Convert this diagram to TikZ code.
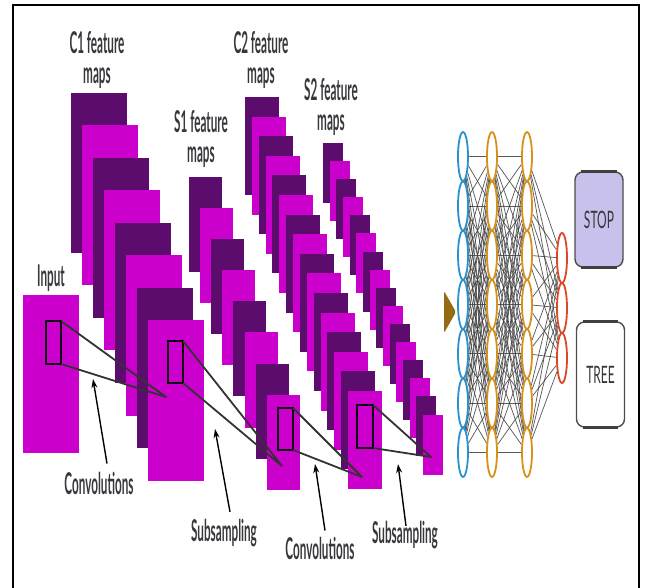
\documentclass[tikz,border=0pt]{standalone}
\usepackage{fontspec}
\usepackage{graphicx}
\setmainfont{Lato}
\usetikzlibrary{shapes.geometric,arrows.meta,backgrounds}

\definecolor{mapdark}{RGB}{92,12,108}
\definecolor{mapbright}{RGB}{204,0,204}
\definecolor{inblue}{RGB}{40,145,210}
\definecolor{hidorange}{RGB}{214,145,25}
\definecolor{outred}{RGB}{218,72,38}
\definecolor{stopfill}{RGB}{200,193,236}
\definecolor{inkgray}{RGB}{55,55,60}
\definecolor{feedgold}{RGB}{150,105,20}

% A fanned stack of feature maps, alternating dark and bright.
% #1,#2 top-left of the first map; #3,#4 offset per map; #5,#6 size; #7 last index
\newcommand\featurestack[7]{%
  \foreach \mapidx in {0,...,#7}{%
    \pgfmathtruncatemacro\mappar{mod(\mapidx,2)}%
    \ifnum\mappar=0 \def\mapcol{mapdark}\else\def\mapcol{mapbright}\fi
    \fill[fill=\mapcol] ({#1+\mapidx*#3},{#2+\mapidx*#4}) rectangle ++(#5,#6);
  }%
}

\tikzset{
  lbl/.style={text=inkgray, font=\fontsize{30}{30}\selectfont\bfseries, xscale=0.39,
              inner sep=0pt, align=center},
  window/.style={draw=black!85!mapdark, line width=1.6pt},
  proj/.style={draw=black!80, line width=1.8pt, line join=round},
  pointer/.style={draw=black, line width=1.4pt, -{Stealth[length=9pt,width=6pt]}},
  unit/.style={ellipse, fill=white, line width=1.8pt, minimum width=10pt,
               minimum height=49pt, inner sep=0pt},
  link/.style={draw=black!75, line width=0.75pt, opacity=0.85},
  outbox/.style={draw=black!70, line width=1.4pt, rounded corners=8pt,
                 minimum width=48pt, text=inkgray, inner sep=0pt,
                 font=\fontsize{24}{24}\selectfont},
  boxedge/.style={draw=black!75, line width=3pt},
  frameline/.style={draw=black, line width=2.5pt},
}

\begin{document}
\begin{tikzpicture}[x=1pt,y=-1pt]
\useasboundingbox (0,0) rectangle (646,588);

% outer frame
\draw[frameline] (13,592) -- (13,5) -- (639,5) -- (639,592);

% input image
\fill[mapbright] (23,295) rectangle (79,453);

% feature map stacks
\featurestack{71}{93}{11}{32.5}{56}{160}{7}
\featurestack{189}{177}{11.1}{31.1}{33}{95}{7}
\featurestack{245}{97}{6.87}{19.6}{34}{98}{15}
\featurestack{323}{143}{6.67}{18.1}{20}{60}{15}

% receptive windows and their projections
\draw[window] (46,321) rectangle (61,364);
\coordinate (w1a) at (61,321); \coordinate (w1b) at (61,364); \coordinate (p1) at (166,397);
\draw[proj] (w1a) -- (p1) -- (w1b);

\draw[window] (168,341) rectangle (183,383);
\coordinate (w2a) at (183,341); \coordinate (w2b) at (183,383); \coordinate (p2) at (282,466);
\draw[proj] (w2a) -- (p2) -- (w2b);

\draw[window] (278,408) rectangle (293,450);
\coordinate (w3a) at (293,408); \coordinate (w3b) at (293,450); \coordinate (p3) at (362,477);
\draw[proj] (w3a) -- (p3) -- (w3b);

\draw[window] (357,405) rectangle (373,448);
\coordinate (w4a) at (373,405); \coordinate (w4b) at (373,448); \coordinate (p4) at (431,457);
\draw[proj] (w4a) -- (p4) -- (w4b);

% labels
\node[lbl] (lblinput) at (51,278) {Input};
\node[lbl] (lblc1) at (97,60) {C1 feature\\maps};
\node[lbl] (lbls1) at (201,139) {S1 feature\\maps};
\node[lbl] (lblc2) at (261,60) {C2 feature\\maps};
\node[lbl] (lbls2) at (331,107) {S2 feature\\maps};
\node[lbl] (conv1) at (99,483) {Convolutions};
\node[lbl] (sub1) at (224,533) {Subsampling};
\node[lbl] (conv2) at (320,548) {Convolutions};
\node[lbl] (sub2) at (405,535) {Subsampling};

% pointers from the operation names
\coordinate (t1) at (93,379);
\coordinate (t2) at (215,429);
\coordinate (t3) at (315,464);
\coordinate (t4) at (398,464);
\draw[pointer] ([shift={(8,-8)}]conv1.north) -- (t1);
\draw[pointer] ([shift={(6,-7)}]sub1.north) -- (t2);
\draw[pointer] ([shift={(5,-6)}]conv2.north) -- (t3);
\draw[pointer] ([shift={(1,5)}]sub2.north) -- (t4);

% feed into the fully connected part
\fill[feedgold, rounded corners=2pt] (444,291) -- (456,312) -- (444,333) -- cycle;

% fully connected network
\foreach \i in {1,...,7}{
  \node[unit, draw=inblue]    (in\i) at (463,{156.6+(\i-1)*49.3}) {};
  \node[unit, draw=hidorange] (ha\i) at (492,{156.6+(\i-1)*49.3}) {};
  \node[unit, draw=hidorange] (hb\i) at (527,{156.6+(\i-1)*49.3}) {};
}
\foreach \i in {1,2,3}
  \node[unit, draw=outred, minimum height=50pt] (out\i) at (562,{258+(\i-1)*50}) {};

\begin{scope}[on background layer]
  \foreach \i in {1,...,7}{
    \foreach \j in {1,...,7}{
      \draw[link] (in\i) -- (ha\j);
      \draw[link] (ha\i) -- (hb\j);
    }
    \foreach \j in {1,2,3}
      \draw[link] (hb\i) -- (out\j);
  }
\end{scope}

% decisions
\node[outbox, fill=stopfill, minimum height=95pt] (stop) at (599,219.5)
  {\scalebox{0.5}[1]{STOP}};
\node[outbox, fill=white, minimum height=105pt] (tree) at (600.5,374.5)
  {\scalebox{0.5}[1]{TREE}};
\draw[boxedge] ([xshift=7pt]stop.north west) -- ([xshift=-7pt]stop.north east);
\draw[boxedge] ([xshift=7pt]stop.south west) -- ([xshift=-7pt]stop.south east);
\draw[boxedge] ([xshift=7pt]tree.north west) -- ([xshift=-7pt]tree.north east);
\draw[boxedge] ([xshift=7pt]tree.south west) -- ([xshift=-7pt]tree.south east);
\end{tikzpicture}
\end{document}
